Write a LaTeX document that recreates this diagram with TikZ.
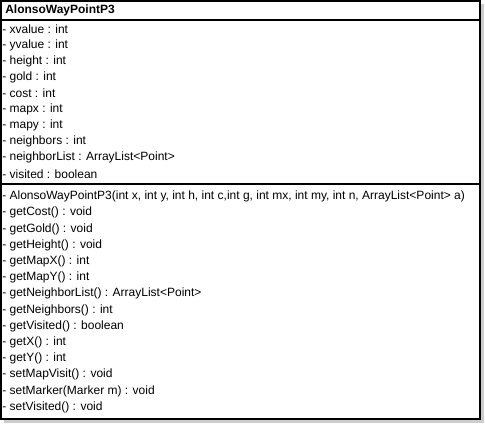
\documentclass[tikz,border=0pt]{standalone}
\usepackage{fontspec}
\setmainfont{Liberation Sans}
\definecolor{shadowgray}{RGB}{204,204,204}
\tikzset{
  member/.style={anchor=west, inner sep=0pt, font=\fontsize{9}{10}\selectfont},
  classname/.style={member, font=\fontsize{9}{10}\selectfont\bfseries},
  divider/.style={line width=0.9pt},
}

\begin{document}
\begin{tikzpicture}[x=0.75pt, y=-0.75pt]
    \useasboundingbox (0,0) rectangle (485,425);
    % shadow and box
    \fill[shadowgray] (4,4) rectangle (484,423);
    \coordinate (topleft) at (1,1);
    \coordinate (botright) at (480,419);
    \draw[divider, fill=white] (topleft) rectangle (botright);
    % Title
    \node[classname] (title) at (5,10) {AlonsoWayPointP3};
    \coordinate (sepAL) at (1,20);
    \coordinate (sepAR) at (480,20);
    \draw[divider] (sepAL) -- (sepAR);
    % attributes
    \foreach \txt [count=\i] in {
        - xvalue : int,
        - yvalue : int,
        - height : int,
        - gold : int,
        - cost : int,
        - mapx : int,
        - mapy : int,
        - neighbors : int,
        - neighborList : ArrayList<Point>,
        - visited : boolean}
        \node[member] (attr\i) at (2, {29 + (\i-1)*16.1}) {\txt};
    \coordinate (sepBL) at (1,184);
    \coordinate (sepBR) at (480,184);
    \draw[divider] (sepBL) -- (sepBR);
    % operations
    \foreach \txt [count=\i] in {
        {- AlonsoWayPointP3(int x, int y, int h, int c,int g, int mx, int my, int n, ArrayList<Point> a)},
        - getCost() : void,
        - getGold() : void,
        - getHeight() : void,
        - getMapX() : int,
        - getMapY() : int,
        - getNeighborList() : ArrayList<Point>,
        - getNeighbors() : int,
        - getVisited() : boolean,
        - getX() : int,
        - getY() : int,
        - setMapVisit() : void,
        - setMarker(Marker m) : void,
        - setVisited() : void}
        \node[member] (op\i) at (2, {196.5 + (\i-1)*16.2}) {\txt};
\end{tikzpicture}
\end{document}
